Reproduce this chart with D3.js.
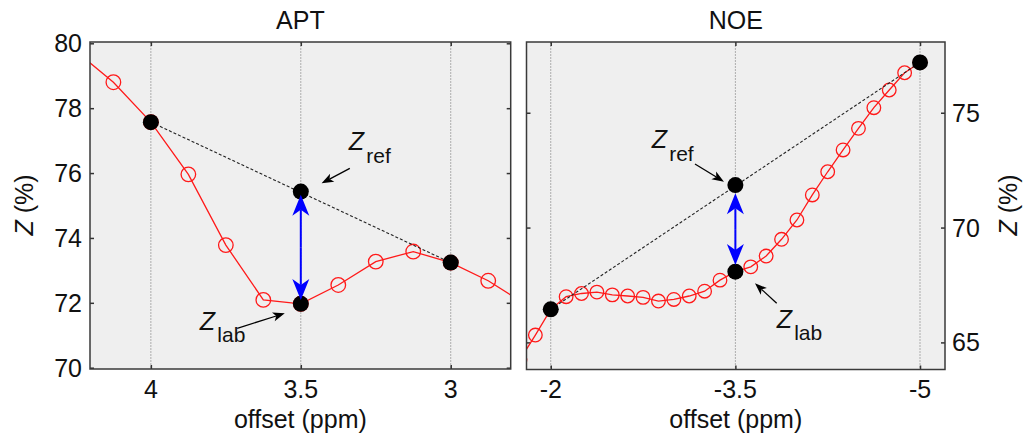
<!DOCTYPE html>
<html>
<head>
<meta charset="utf-8">
<script src="https://cdn.jsdelivr.net/npm/d3@7/dist/d3.min.js"></script>
<style>
  html, body { margin: 0; padding: 0; background: #fff; }
  svg { display: block; font-family: "Liberation Sans", Arial, Helvetica, sans-serif; }
</style>
</head>
<body>
<svg id="chart" width="1024" height="441"></svg>
<script>
// ---------- DATA ----------
const aptOffsets = [4.25, 4.125, 4.0, 3.875, 3.75, 3.625, 3.5, 3.375, 3.25, 3.125, 3.0, 2.875, 2.75];
const aptZ       = [79.76, 78.80, 77.57, 75.96, 73.78, 72.09, 71.97, 72.55, 73.27, 73.58, 73.24, 72.68, 71.95];
const aptDotOffsets = [4.0, 3.5, 3.5, 3.0];
const aptDotZ       = [77.57, 75.43, 71.97, 73.24];
const aptRefLineOffsets = [4.0, 3.0];
const aptRefLineZ       = [77.57, 73.24];
const aptArrowZ = [72.09, 75.33];
const aptXTicks = [4, 3.5, 3];
const aptXTickLabels = ["4", "3.5", "3"];
const aptYTicks = [70, 72, 74, 76, 78, 80];

const noeOffsets = [-1.75, -1.875, -2.0, -2.125, -2.25, -2.375, -2.5, -2.625, -2.75, -2.875, -3.0,
                    -3.125, -3.25, -3.375, -3.5, -3.625, -3.75, -3.875, -4.0, -4.125, -4.25,
                    -4.375, -4.5, -4.625, -4.75, -4.875, -5.0];
const noeZ       = [64.25, 65.32, 66.44, 66.99, 67.13, 67.19, 67.07, 67.02, 66.96, 66.80, 66.87,
                    67.02, 67.23, 67.71, 68.08, 68.29, 68.76, 69.49, 70.33, 71.42, 72.43,
                    73.38, 74.32, 75.22, 75.99, 76.74, 77.19];
const noeDotOffsets = [-2.0, -3.5, -3.5, -5.0];
const noeDotZ       = [66.44, 71.85, 68.08, 77.19];
const noeRefLineOffsets = [-2.0, -5.0];
const noeRefLineZ       = [66.44, 77.19];
const noeArrowZ = [68.37, 71.49];
const noeXTicks = [-2, -3.5, -5];
const noeXTickLabels = ["-2", "-3.5", "-5"];
const noeYTicks = [65, 70, 75];

const titles = ["APT", "NOE"];
const xLabel = "offset (ppm)";

// ---------- DRAW ----------
const svg = d3.select("#chart");
const FONT = 25;

function arrowHead(g, tip, tail, L, W, N, color) {
  const dx = tip[0] - tail[0], dy = tip[1] - tail[1];
  const len = Math.hypot(dx, dy);
  const ux = dx / len, uy = dy / len;
  const nx = -uy, ny = ux;
  const bx = tip[0] - L * ux, by = tip[1] - L * uy;
  const pts = [
    tip,
    [bx + W * nx, by + W * ny],
    [tip[0] - (L - N) * ux, tip[1] - (L - N) * uy],
    [bx - W * nx, by - W * ny]
  ];
  g.append("path").attr("d", "M" + pts.map(p => p.join(",")).join("L") + "Z")
    .attr("fill", color).attr("stroke", "none");
}

function arrow(g, tail, tip, opts) {
  const dx = tip[0] - tail[0], dy = tip[1] - tail[1];
  const len = Math.hypot(dx, dy);
  const ux = dx / len, uy = dy / len;
  const stop = [tip[0] - (opts.L - opts.N) * ux, tip[1] - (opts.L - opts.N) * uy];
  g.append("line").attr("x1", tail[0]).attr("y1", tail[1]).attr("x2", stop[0]).attr("y2", stop[1])
    .attr("stroke", opts.color).attr("stroke-width", opts.width);
  arrowHead(g, tip, tail, opts.L, opts.W, opts.N, opts.color);
}

function zLabel(g, x, y, sub) {
  g.append("text").attr("x", x).attr("y", y).attr("font-size", FONT)
    .attr("font-style", "italic").attr("fill", "#111").text("Z");
  g.append("text").attr("x", x + 17.5).attr("y", y + 12.5).attr("font-size", 21)
    .attr("fill", "#111").text(sub);
}

function panel(cfg) {
  const x = d3.scaleLinear().domain(cfg.xDomain).range([cfg.left, cfg.right]);
  const y = d3.scaleLinear().domain(cfg.yDomain).range([cfg.bottom, cfg.top]);
  const g = svg.append("g");
  const clipId = "clip-" + cfg.id;
  svg.append("clipPath").attr("id", clipId).append("rect")
    .attr("x", cfg.left).attr("y", cfg.top)
    .attr("width", cfg.right - cfg.left).attr("height", cfg.bottom - cfg.top);

  // background
  g.append("rect").attr("x", cfg.left).attr("y", cfg.top)
    .attr("width", cfg.right - cfg.left).attr("height", cfg.bottom - cfg.top)
    .attr("fill", "#efefef");

  // vertical grid
  g.selectAll(".grid").data(cfg.xTicks).enter().append("line")
    .attr("x1", d => x(d)).attr("x2", d => x(d))
    .attr("y1", cfg.top).attr("y2", cfg.bottom)
    .attr("stroke", "#adadad").attr("stroke-width", 1).attr("stroke-dasharray", "2,1");

  // axes (ticks inside on all four sides)
  const tk = 4;
  const axB = d3.axisBottom(x).tickValues(cfg.xTicks).tickSize(-tk).tickFormat("");
  const axT = d3.axisTop(x).tickValues(cfg.xTicks).tickSize(-tk).tickFormat("");
  const axL = d3.axisLeft(y).tickValues(cfg.yTicks).tickSize(-tk).tickFormat("");
  const axR = d3.axisRight(y).tickValues(cfg.yTicks).tickSize(-tk).tickFormat("");
  [[axB, `translate(0,${cfg.bottom})`], [axT, `translate(0,${cfg.top})`],
   [axL, `translate(${cfg.left},0)`], [axR, `translate(${cfg.right},0)`]].forEach(([ax, tr]) => {
    const a = g.append("g").attr("transform", tr).call(ax);
    a.select(".domain").remove();
    a.selectAll(".tick line").attr("stroke", "#333").attr("stroke-width", 1.5);
  });

  // x tick labels
  g.selectAll(".xtl").data(cfg.xTicks).enter().append("text")
    .attr("x", d => x(d)).attr("y", 398).attr("text-anchor", "middle")
    .attr("font-size", FONT).attr("fill", "#111")
    .text((d, i) => cfg.xTickLabels[i]);

  // y tick labels
  g.selectAll(".ytl").data(cfg.yTicks).enter().append("text")
    .attr("x", cfg.yLabelSide === "left" ? cfg.left - 8 : cfg.right + 7)
    .attr("y", d => y(d) + 9)
    .attr("text-anchor", cfg.yLabelSide === "left" ? "end" : "start")
    .attr("font-size", FONT).attr("fill", "#111")
    .text(d => d);

  // title
  g.append("text").attr("x", (cfg.left + cfg.right) / 2).attr("y", 29)
    .attr("text-anchor", "middle").attr("font-size", FONT).attr("fill", "#111").text(cfg.title);
  // x label
  g.append("text").attr("x", (cfg.left + cfg.right) / 2).attr("y", 428)
    .attr("text-anchor", "middle").attr("font-size", FONT).attr("fill", "#111").text(xLabel);
  // y label
  const yl = g.append("text")
    .attr("transform", `translate(${cfg.yTitleX},205) rotate(-90)`)
    .attr("text-anchor", "middle").attr("font-size", FONT).attr("fill", "#111");
  yl.append("tspan").attr("font-style", "italic").text("Z");
  yl.append("tspan").text(" (%)");

  // data
  const pts = cfg.offsets.map((o, i) => [o, cfg.z[i]]);
  const cg = g.append("g").attr("clip-path", `url(#${clipId})`);
  cg.append("path").datum(pts)
    .attr("d", d3.line().x(d => x(d[0])).y(d => y(d[1])))
    .attr("fill", "none").attr("stroke", "#ff1a1a").attr("stroke-width", 1.3);
  cg.selectAll(".c").data(pts).enter().append("circle")
    .attr("cx", d => x(d[0])).attr("cy", d => y(d[1])).attr("r", cfg.circleR)
    .attr("fill", "none").attr("stroke", "#ff1a1a").attr("stroke-width", 1.3);

  // reference dashed line
  const rl = cfg.refOffsets.map((o, i) => [o, cfg.refZ[i]]);
  g.append("path").datum(rl)
    .attr("d", d3.line().x(d => x(d[0])).y(d => y(d[1])))
    .attr("fill", "none").attr("stroke", "#222").attr("stroke-width", 1.1)
    .attr("stroke-dasharray", "3,2");

  // black dots
  const dots = cfg.dotOffsets.map((o, i) => [o, cfg.dotZ[i]]);
  g.selectAll(".dot").data(dots).enter().append("circle")
    .attr("cx", d => x(d[0])).attr("cy", d => y(d[1])).attr("r", 8).attr("fill", "#000");

  // blue double arrow
  const ax = x(cfg.dotOffsets[1]);
  const yLow = y(cfg.arrowZ[0]), yHigh = y(cfg.arrowZ[1]);
  const bopts = { L: 21, W: 8.5, N: 6, color: "#0000ff", width: 2 };
  const mid = (yLow + yHigh) / 2;
  arrow(g, [ax, mid], [ax, yHigh], bopts);
  arrow(g, [ax, mid], [ax, yLow], bopts);

  // annotations
  const ref = [x(cfg.dotOffsets[1]), y(cfg.dotZ[1])];
  const lab = [x(cfg.dotOffsets[2]), y(cfg.dotZ[2])];
  const kopts = { L: 12, W: 4.5, N: 3, color: "#000", width: 1.3 };
  const a = cfg.ann;
  arrow(g, [ref[0] + a.refTail[0], ref[1] + a.refTail[1]], [ref[0] + a.refTip[0], ref[1] + a.refTip[1]], kopts);
  zLabel(g, ref[0] + a.refText[0], ref[1] + a.refText[1], "ref");
  arrow(g, [lab[0] + a.labTail[0], lab[1] + a.labTail[1]], [lab[0] + a.labTip[0], lab[1] + a.labTip[1]], kopts);
  zLabel(g, lab[0] + a.labText[0], lab[1] + a.labText[1], "lab");

  // frame
  g.append("rect").attr("x", cfg.left).attr("y", cfg.top)
    .attr("width", cfg.right - cfg.left).attr("height", cfg.bottom - cfg.top)
    .attr("fill", "none").attr("stroke", "#3a3a3a").attr("stroke-width", 1.5);
}

panel({
  id: "apt", title: titles[0],
  left: 90, right: 510.7, top: 42, bottom: 369,
  xDomain: [4.203, 2.8], yDomain: [69.96, 80.04],
  xTicks: aptXTicks, xTickLabels: aptXTickLabels, yTicks: aptYTicks,
  yLabelSide: "left", yTitleX: 33,
  offsets: aptOffsets, z: aptZ, circleR: 7.3,
  refOffsets: aptRefLineOffsets, refZ: aptRefLineZ,
  dotOffsets: aptDotOffsets, dotZ: aptDotZ, arrowZ: aptArrowZ,
  ann: {
    refTip: [20.8, -8.2], refTail: [49, -23.2], refText: [48, -41.5],
    labTip: [-16, 9.5], labTail: [-63.6, 24.5], labText: [-101, 26]
  }
});

panel({
  id: "noe", title: titles[1],
  left: 526.5, right: 945, top: 42, bottom: 369.5,
  xDomain: [-1.803, -5.203], yDomain: [63.82, 78.08],
  xTicks: noeXTicks, xTickLabels: noeXTickLabels, yTicks: noeYTicks,
  yLabelSide: "right", yTitleX: 1017,
  offsets: noeOffsets, z: noeZ, circleR: 6.8,
  refOffsets: noeRefLineOffsets, refZ: noeRefLineZ,
  dotOffsets: noeDotOffsets, dotZ: noeDotZ, arrowZ: noeArrowZ,
  ann: {
    refTip: [-11.4, -3.4], refTail: [-40.4, -21.1], refText: [-83.7, -37],
    labTip: [19.6, 11.6], labTail: [41.3, 31.6], labText: [41.3, 56.3]
  }
});
</script>
</body>
</html>
